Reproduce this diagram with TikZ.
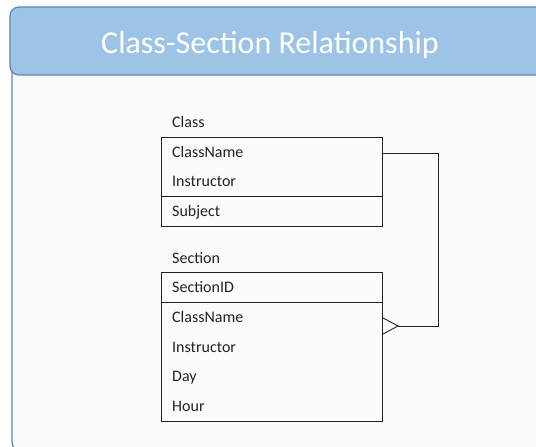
\documentclass[tikz,border=0pt]{standalone}
\usepackage{fontspec}
\setmainfont{Carlito}
\definecolor{headfill}{HTML}{9DC3E6}
\definecolor{headline}{HTML}{5B87B8}
\definecolor{bodyfill}{HTML}{F8FCFD}
\definecolor{ink}{HTML}{222222}
\begin{document}
\begin{tikzpicture}[x=1pt,y=-1pt,
  tablebox/.style={draw=ink,line width=1.1pt,inner sep=0pt,anchor=north west},
  fieldtext/.style={anchor=base west,inner sep=0pt,font=\fontsize{16}{18}\selectfont,text=ink},
  link/.style={draw=ink,line width=0.9pt}]
\useasboundingbox (0,0) rectangle (536,447);
\clip (0,0) rectangle (536,447);
\fill[white] (0,0) rectangle (536,447);
% panel body
\draw[headline,line width=1.2pt,fill=bodyfill,rounded corners=9pt] (12,60) rectangle (620,451);
% header bar
\draw[headline,line width=1.2pt,fill=headfill,rounded corners=9pt] (10,7) rectangle (620,75);
\node[text=white,font=\fontsize{32}{36}\selectfont,anchor=base] (title) at (270,53) {Class-Section Relationship};

% Class table
\node[fieldtext] (clabel) at (172,127) {Class};
\node[tablebox,minimum width=221pt,minimum height=59pt] (classkey) at (161,137) {};
\node[tablebox,minimum width=221pt,minimum height=30pt] (classattr) at (161,196) {};
\node[fieldtext] (c1) at (172,157) {ClassName};
\node[fieldtext] (c2) at (172,186) {Instructor};
\node[fieldtext] (c3) at (172,216) {Subject};

% Section table
\node[fieldtext] (slabel) at (172,263) {Section};
\node[tablebox,minimum width=221pt,minimum height=30pt] (sectkey) at (161,272) {};
\node[tablebox,minimum width=221pt,minimum height=119pt] (sectattr) at (161,302) {};
\node[fieldtext] (s1) at (172,292) {SectionID};
\node[fieldtext] (s2) at (172,322) {ClassName};
\node[fieldtext] (s3) at (172,352) {Instructor};
\node[fieldtext] (s4) at (172,381) {Day};
\node[fieldtext] (s5) at (172,411) {Hour};

% one-to-many link
\coordinate (cstart) at (382,153);
\coordinate (turn) at (438,153);
\coordinate (foot) at (398,326);
\draw[link] (classkey.east |- cstart) -- (turn) |- (foot);
\draw[link] (sectattr.east |- 0,318) -- (foot) -- (sectattr.east |- 0,334);
\end{tikzpicture}
\end{document}
